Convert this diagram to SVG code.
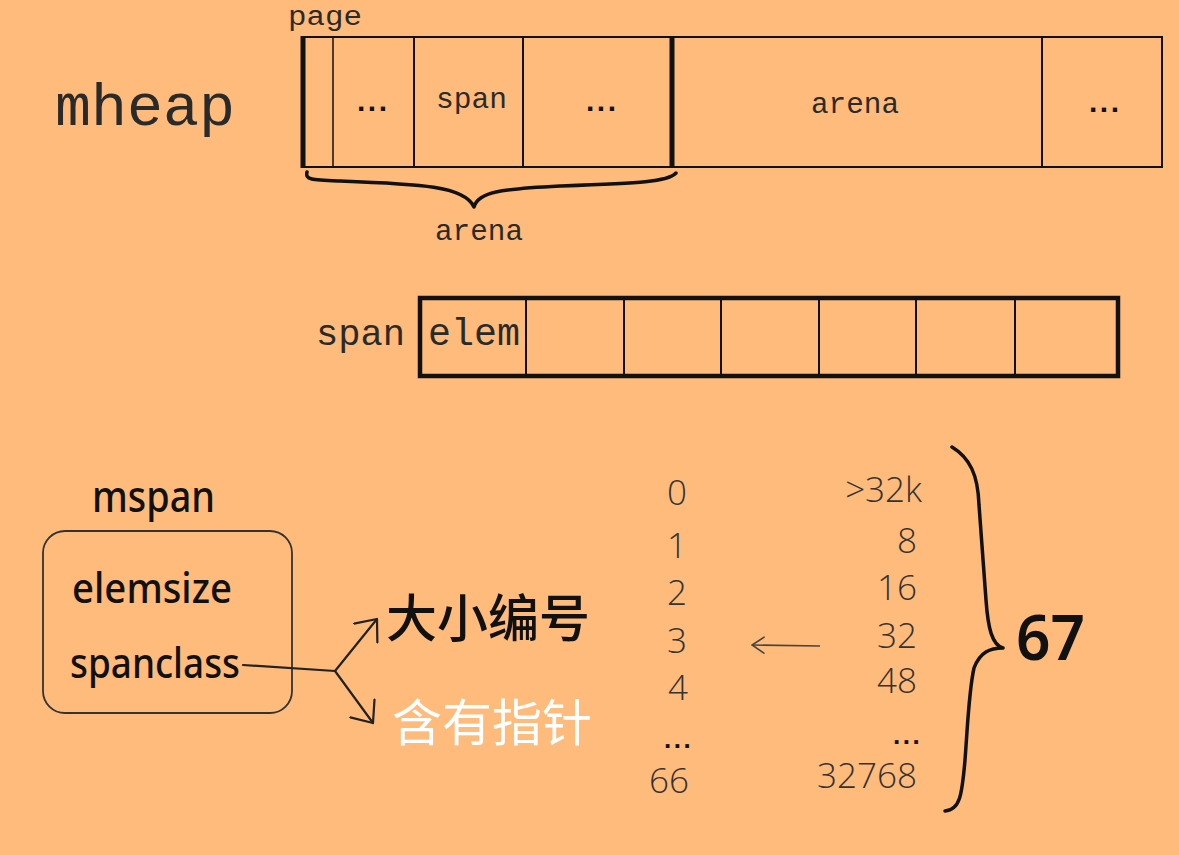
<svg xmlns="http://www.w3.org/2000/svg" width="1179" height="855" viewBox="0 0 1179 855">
<style>
.mono{font-family:"Liberation Mono","DejaVu Sans Mono",monospace;fill:#2a2a2a}
.dots{font-family:"Liberation Sans",Arial,sans-serif;font-weight:bold;fill:#111;letter-spacing:2.5px}
.num{font-family:"Open Sans","Noto Sans",sans-serif;font-weight:300;fill:#333;font-size:35px}
.hand{font-family:"Noto Sans","DejaVu Sans",sans-serif;font-weight:500;fill:#111}
.thin{stroke:#111;stroke-width:2;fill:none}
.thick{stroke:#111;stroke-width:5;fill:none}
.brace{stroke:#111;stroke-width:3.5;fill:none;stroke-linecap:round;stroke-linejoin:round}
.conn{stroke:#222;stroke-width:2.2;fill:none;stroke-linecap:round}
</style>
<defs>
<marker id="open" viewBox="0 0 20 32" refX="19" refY="16" markerWidth="20" markerHeight="32" markerUnits="userSpaceOnUse" orient="auto">
<path d="M1,1 L19,16 L1,31" fill="none" stroke="#222" stroke-width="2.2" stroke-linecap="round" stroke-linejoin="round"/>
</marker>
<marker id="small" viewBox="0 0 14 18" refX="13" refY="9" markerWidth="14" markerHeight="18" markerUnits="userSpaceOnUse" orient="auto">
<path d="M1,1 L13,9 L1,17" fill="none" stroke="#444" stroke-width="1.6" stroke-linecap="round"/>
</marker>
</defs>
<rect width="1179" height="855" fill="#FFBB7B"/>

<g id="mheap-label">
<text class="mono" x="55" y="125" font-size="60" textLength="180" lengthAdjust="spacingAndGlyphs">mheap</text>
<text class="mono" x="288" y="25" font-size="27" textLength="74" lengthAdjust="spacingAndGlyphs">page</text>
</g>

<g id="heap-row">
<rect x="303" y="37" width="859" height="130" class="thin"/>
<line x1="303" y1="36" x2="303" y2="168" class="thick"/>
<line x1="672" y1="36" x2="672" y2="168" class="thick"/>
<line x1="333" y1="37" x2="333" y2="167" stroke="#111" stroke-width="1.5"/>
<line x1="414" y1="37" x2="414" y2="167" class="thin"/>
<line x1="523" y1="37" x2="523" y2="167" class="thin"/>
<line x1="1042" y1="37" x2="1042" y2="167" class="thin"/>
<text class="dots" x="357" y="111" font-size="30">...</text>
<text class="mono" x="436" y="108" font-size="30" textLength="71" lengthAdjust="spacingAndGlyphs">span</text>
<text class="dots" x="586" y="111" font-size="30">...</text>
<text class="mono" x="811" y="113" font-size="29" textLength="88" lengthAdjust="spacingAndGlyphs">arena</text>
<text class="dots" x="1089" y="112" font-size="30">...</text>
</g>

<g id="arena-brace">
<path class="brace" d="M307,172 C305,180 312,180 340,181 C420,184 465,186 474,207 C478,192 500,189 560,186 C640,183 668,182 676,173"/>
<text class="mono" x="435" y="240" font-size="29" textLength="88" lengthAdjust="spacingAndGlyphs">arena</text>
</g>

<g id="span-row">
<text class="mono" x="316" y="345" font-size="37" textLength="89" lengthAdjust="spacingAndGlyphs">span</text>
<rect x="420" y="298" width="698" height="78" stroke="#111" stroke-width="4.5" fill="none"/>
<line x1="526" y1="298" x2="526" y2="376" class="thin"/>
<line x1="624" y1="298" x2="624" y2="376" class="thin"/>
<line x1="721" y1="298" x2="721" y2="376" class="thin"/>
<line x1="819" y1="298" x2="819" y2="376" class="thin"/>
<line x1="916" y1="298" x2="916" y2="376" class="thin"/>
<line x1="1015" y1="298" x2="1015" y2="376" class="thin"/>
<text class="mono" x="428" y="345" font-size="38" textLength="92" lengthAdjust="spacingAndGlyphs">elem</text>
</g>

<g id="mspan">
<text class="hand" x="92" y="512" font-size="44" textLength="123" lengthAdjust="spacingAndGlyphs">mspan</text>
<rect x="43" y="531" width="249" height="182" rx="22" fill="none" stroke="#333" stroke-width="1.8"/>
<text class="hand" x="72" y="603" font-size="42" textLength="160" lengthAdjust="spacingAndGlyphs">elemsize</text>
<text class="hand" x="70" y="678" font-size="42" textLength="170" lengthAdjust="spacingAndGlyphs">spanclass</text>
</g>

<g id="size-class">
<text x="386" y="637" font-family="'Noto Sans CJK SC',sans-serif" font-weight="500" font-size="51" fill="#111">大小编号</text>
</g>
<g id="has-pointer">
<text x="392" y="741" font-family="'Noto Sans CJK SC',sans-serif" font-weight="400" font-size="50" fill="#ffffff">含有指针</text>
</g>

<g id="class-table">
<text class="num" x="677" y="505" text-anchor="middle">0</text>
<text class="num" x="677" y="558" text-anchor="middle">1</text>
<text class="num" x="677" y="605" text-anchor="middle">2</text>
<text class="num" x="677" y="653" text-anchor="middle">3</text>
<text class="num" x="678" y="700" text-anchor="middle">4</text>
<text class="dots" x="664" y="748" font-size="26">...</text>
<text class="num" x="669" y="793" text-anchor="middle">66</text>
<text class="num" x="922" y="502" text-anchor="end">&gt;32k</text>
<text class="num" x="917" y="553" text-anchor="end">8</text>
<text class="num" x="917" y="600" text-anchor="end">16</text>
<text class="num" x="917" y="648" text-anchor="end">32</text>
<text class="num" x="917" y="693" text-anchor="end">48</text>
<text class="dots" x="893" y="744" font-size="26">...</text>
<text class="num" x="917" y="788" text-anchor="end">32768</text>
</g>

<g id="count-brace">
<path class="brace" d="M952,447 C970,458 978,475 979,505 L986,600 C988,628 992,645 1003,648 C990,648 980,652 974,668 C969,690 968,720 965,760 C962,795 960,810 945,811"/>
<text x="1016" y="660" font-family="'Noto Sans','DejaVu Sans',sans-serif" font-weight="600" font-size="64" fill="#111" textLength="69" lengthAdjust="spacingAndGlyphs">67</text>
</g>

<g id="connectors">
<polyline class="conn" points="243,665 335,671"/>
<line class="conn" x1="335" y1="671" x2="377" y2="619" marker-end="url(#open)"/>
<line class="conn" x1="335" y1="671" x2="373" y2="723" marker-end="url(#open)"/>
<line x1="820" y1="646" x2="752" y2="645" stroke="#444" stroke-width="1.6" marker-end="url(#small)"/>
</g>
</svg>
